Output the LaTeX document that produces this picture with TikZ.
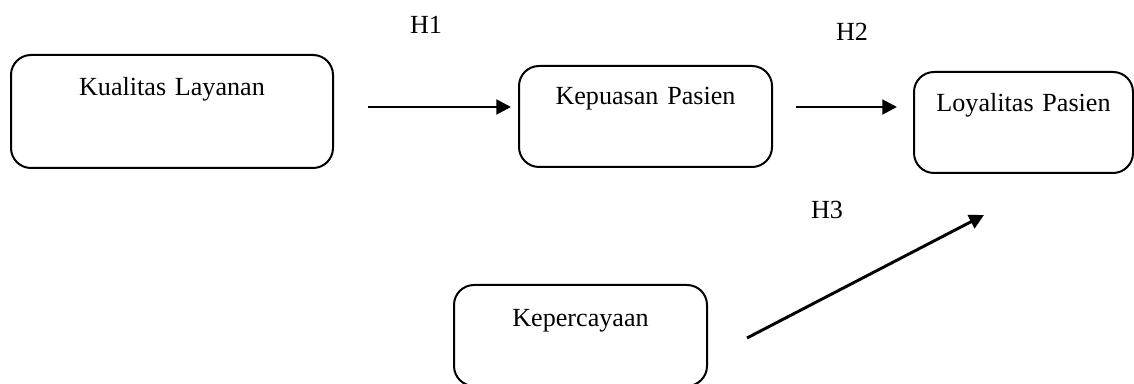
\documentclass[tikz,border=0pt]{standalone}
\usepackage{fontspec}
\setmainfont{Liberation Serif}
\usetikzlibrary{arrows.meta}

\tikzset{
  box/.style={draw, rounded corners=15pt, line width=1.5pt, inner sep=0pt,
    align=center, font=\fontsize{19.6}{24}\selectfont},
  hlabel/.style={inner sep=0pt, font=\fontsize{19.6}{24}\selectfont},
  arr/.style={-{Triangle[length=11pt, width=11pt]}, line width=2.2pt}
}

\begin{document}
\begin{tikzpicture}[x=0.75pt, y=-0.75pt]
    \useasboundingbox (0,0) rectangle (1134,384);

    \node[box, text width=241.5pt, text height=30.75pt, text depth=54pt] (kualitas) at (172,111.5) {Kualitas Layanan};
    \node[box, text width=189.75pt, text height=29.25pt, text depth=46.5pt] (kepuasan) at (645.5,116.5) {Kepuasan Pasien};
    \node[box, text width=164.25pt, text height=30pt, text depth=45.75pt] (loyalitas) at (1023.5,122.5) {Loyalitas Pasien};
    \node[box, text width=189.75pt, text height=31.5pt, text depth=44.25pt] (kepercayaan) at (580.5,335.5) {Kepercayaan};

    \draw[arr] ([xshift=25.5pt, yshift=3.375pt]kualitas.east) -- ([xshift=-5.25pt, yshift=7.125pt]kepuasan.west);
    \draw[arr] ([xshift=17.25pt, yshift=7.125pt]kepuasan.east) -- ([xshift=-12pt, yshift=11.625pt]loyalitas.west);
    \draw[arr] ([xshift=29.25pt, yshift=-1.875pt]kepercayaan.east) -- ([xshift=-29.625pt, yshift=-30.75pt]loyalitas.south);

    \node[hlabel] (h1) at (426,25) {H1};
    \node[hlabel] (h2) at (852,32) {H2};
    \node[hlabel] (h3) at (827,210) {H3};
\end{tikzpicture}
\end{document}
